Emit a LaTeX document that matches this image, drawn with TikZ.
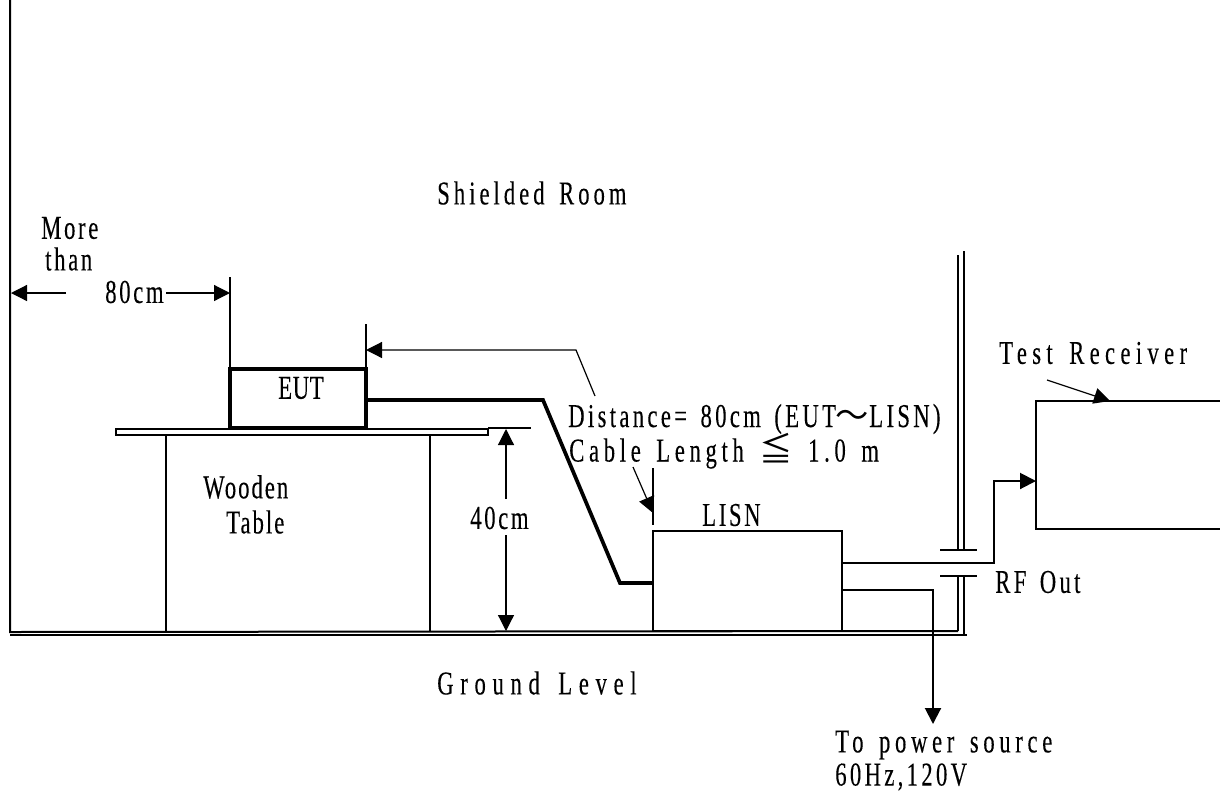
\documentclass[tikz,border=0pt]{standalone}
\usepackage{fontspec}
\setmainfont[FakeStretch=0.68,FakeBold=0.2,LetterSpace=8,WordSpace=1.5]{Liberation Serif}
\newfontfamily\cjkfont{Noto Sans CJK JP}
\newcommand{\ls}[1]{\addfontfeature{LetterSpace=#1}}
\usetikzlibrary{arrows.meta}
\tikzset{
  x=0.75pt,y=-0.75pt,
  thin line/.style={line width=0.9pt,black},
  mid line/.style={line width=1.5pt,black},
  thick line/.style={line width=2.8pt,black,line join=miter},
  tip end/.style={-{Triangle[length=12pt,width=12pt]}},
  label/.style={font=\fontsize{25}{25}\selectfont,inner sep=0pt,anchor=west,text=black},
  boxnode/.style={draw=black,anchor=north west,inner sep=0pt,outer sep=0pt},
}
\begin{document}
\begin{tikzpicture}
\useasboundingbox (0,0) rectangle (1220,793);
% walls and ground
\coordinate (wallTop) at (10,0);
\coordinate (wallBase) at (10,632);
\coordinate (groundEnd) at (958,631);
\coordinate (groundEndLow) at (967,635);
\coordinate (groundLow) at (10,635);
\draw[mid line] (wallTop) -- (wallBase) -- (groundEnd);
\draw[thin line] (groundLow) -- (groundEndLow);
\coordinate (shieldTopA) at (958,255);
\coordinate (shieldTopB) at (964,251);
\coordinate (plateUpL) at (940,550);
\coordinate (plateUpR) at (977,550);
\coordinate (plateLowL) at (940,576);
\coordinate (plateLowR) at (977,576);
\draw[mid line] (shieldTopA) -- (958,550);
\draw[thin line] (shieldTopB) -- (964,550);
\draw[mid line] (plateUpL) -- (plateUpR);
\draw[mid line] (plateLowL) -- (plateLowR);
\draw[mid line] (958,576) -- (groundEnd);
\draw[thin line] (964,576) -- (964,635);
% table
\node[boxnode,line width=1.2pt,minimum width=279pt,minimum height=4.5pt] (tabletop) at (116,429) {};
\coordinate (legA) at (166,435);
\coordinate (legAb) at (166,631);
\coordinate (legB) at (430,435);
\coordinate (legBb) at (430,631);
\draw[mid line] (legA) -- (legAb);
\draw[mid line] (legB) -- (legBb);
% boxes
\node[boxnode,line width=2.8pt,minimum width=102pt,minimum height=44.5pt] (eut) at (230,369) {};
\node[boxnode,line width=1.5pt,minimum width=142pt,minimum height=75pt] (lisn) at (653,531) {};
\node[boxnode,line width=1.5pt,minimum width=144pt,minimum height=96pt] (receiver) at (1036,401) {};
% cable
\coordinate (cableA) at (366,400);
\coordinate (cableB) at (543,400);
\coordinate (cableC) at (620,583);
\coordinate (cableD) at (653,583);
\draw[thick line] (cableA) -- (cableB) -- (cableC) -- (cableD);
% lisn outputs
\coordinate (rfA) at (842,563);
\coordinate (rfB) at (994,563);
\coordinate (rfC) at (994,481);
\coordinate (rfD) at (1036,481);
\draw[mid line,tip end] (rfA) -- (rfB) -- (rfC) -- (rfD);
\coordinate (pwA) at (842,590);
\coordinate (pwB) at (933,590);
\coordinate (pwC) at (933,724);
\draw[mid line,tip end] (pwA) -- (pwB) -- (pwC);
% more than 80cm
\coordinate (extA) at (230,277);
\coordinate (extAb) at (230,369);
\draw[thin line] (extA) -- (extAb);
\coordinate (moreA) at (66,293);
\coordinate (moreB) at (11,293);
\coordinate (moreC) at (166,293);
\coordinate (moreD) at (230,293);
\draw[thin line,tip end] (moreA) -- (moreB);
\draw[thin line,tip end] (moreC) -- (moreD);
% distance
\coordinate (extB) at (366,324);
\coordinate (extBb) at (366,369);
\draw[thin line] (extB) -- (extBb);
\coordinate (distA) at (595,396);
\coordinate (distB) at (576,350);
\coordinate (distC) at (366,350);
\draw[thin line,tip end] (distA) -- (distB) -- (distC);
% cable length
\coordinate (extC) at (653,468);
\coordinate (extCb) at (653,525);
\draw[thin line] (extC) -- (extCb);
\coordinate (lenA) at (633,467);
\coordinate (lenB) at (653,513);
\draw[thin line,tip end] (lenA) -- (lenB);
% 40cm
\coordinate (extD) at (488,428);
\coordinate (extDb) at (531,428);
\draw[mid line] (extD) -- (extDb);
\coordinate (hA) at (506,499);
\coordinate (hB) at (506,429);
\coordinate (hC) at (506,535);
\coordinate (hD) at (506,631);
\draw[thin line,tip end] (hA) -- (hB);
\draw[thin line,tip end] (hC) -- (hD);
% receiver pointer
\coordinate (recA) at (1047,380);
\coordinate (recB) at (1110,401);
\draw[thin line,tip end] (recA) -- (recB);
% labels
\node[label] (tShield) at (437,193) {\ls{12}Shielded Room};
\node[label] (tMore) at (41,228) {More};
\node[label] (tThan) at (45,259) {than};
\node[label] (t80) at (105,292) {80cm};
\node[label] (tEUT) at (278,388) {\ls{2}EUT};
\node[label] (tWood) at (203,487) {\ls{6}Wooden};
\node[label] (tTable) at (226,522) {\ls{6}Table};
\node[label] (t40) at (470,518) {40cm};
\node[label] (tLISN) at (702,515) {LISN};
\node[label] (tDist) at (568,419) {\ls{10}Distance= 80cm (EUT{\cjkfont ～}LISN)};
\node[label] (tCable) at (569,451) {\ls{14}Cable Length {\cjkfont ≦} 1.0 m};
\node[label] (tRF) at (995,582) {\ls{10}RF Out};
\node[label] (tRec) at (999,353) {\ls{16}Test Receiver};
\node[label] (tGround) at (437,683) {\ls{20}Ground Level};
\node[label] (tPower) at (835,745) {\ls{14}To power source};
\node[label] (tHz) at (835,777) {\ls{10}60Hz,120V};
\end{tikzpicture}
\end{document}
